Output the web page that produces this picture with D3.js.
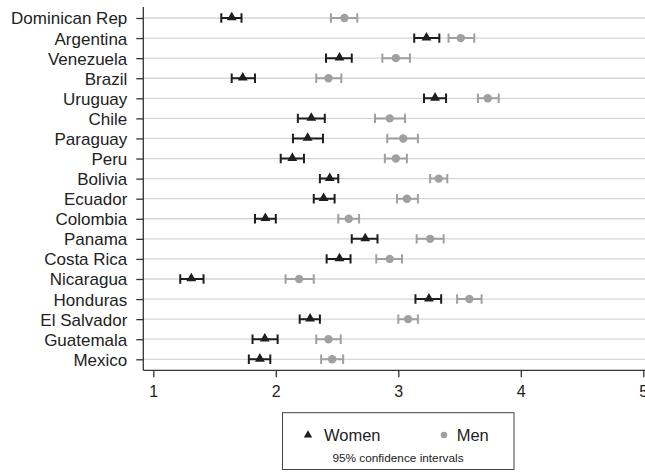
<!DOCTYPE html>
<html>
<head>
<meta charset="utf-8">
<script src="https://cdn.jsdelivr.net/npm/d3@7"></script>
<style>
  body { margin: 0; background: #fff; }
  svg text { font-family: "Liberation Sans", Arial, sans-serif; }
</style>
</head>
<body>
<div id="chart"></div>
<script>
// countries, top to bottom
const countries = ["Dominican Rep", "Argentina", "Venezuela", "Brazil", "Uruguay", "Chile",
  "Paraguay", "Peru", "Bolivia", "Ecuador", "Colombia", "Panama", "Costa Rica",
  "Nicaragua", "Honduras", "El Salvador", "Guatemala", "Mexico"];

// women: mean, lower, upper
const womenMean = [1.64, 3.23, 2.52, 1.73, 3.30, 2.29, 2.26, 2.135, 2.44, 2.39, 1.915, 2.73, 2.52, 1.31, 3.25, 2.28, 1.91, 1.87];
const womenLow  = [1.555, 3.13, 2.41, 1.64, 3.21, 2.18, 2.14, 2.04, 2.36, 2.31, 1.83, 2.62, 2.415, 1.22, 3.14, 2.195, 1.81, 1.78];
const womenHigh = [1.72, 3.335, 2.62, 1.83, 3.39, 2.40, 2.385, 2.23, 2.51, 2.48, 2.00, 2.83, 2.61, 1.41, 3.35, 2.36, 2.015, 1.955];

// men: mean, lower, upper
const menMean = [2.56, 3.51, 2.98, 2.43, 3.73, 2.93, 3.04, 2.98, 3.33, 3.07, 2.595, 3.26, 2.93, 2.19, 3.58, 3.08, 2.43, 2.46];
const menLow  = [2.45, 3.41, 2.87, 2.33, 3.65, 2.81, 2.91, 2.89, 3.26, 2.99, 2.51, 3.15, 2.82, 2.08, 3.48, 3.00, 2.33, 2.37];
const menHigh = [2.665, 3.62, 3.095, 2.535, 3.82, 3.055, 3.16, 3.07, 3.40, 3.16, 2.68, 3.37, 3.03, 2.31, 3.68, 3.16, 2.53, 2.55];

const xTicks = [1, 2, 3, 4, 5];

const W = 645, H = 472;
const axisX = 143.3, axisY = 370.3;

const svg = d3.select("#chart").append("svg")
  .attr("width", W).attr("height", H);

const x = d3.scaleLinear().domain([1, 5]).range([153.3, 643.3]);
const y = d3.scalePoint().domain(countries).range([18, 359.3]);

// gridlines
svg.append("g").selectAll("line")
  .data(countries).enter().append("line")
  .attr("x1", axisX).attr("x2", W)
  .attr("y1", d => y(d)).attr("y2", d => y(d))
  .attr("stroke", "#d6d6d6").attr("stroke-width", 1.3);

// y axis
let yAxis = svg.append("g")
  .attr("transform", `translate(${axisX},0)`)
  .call(d3.axisLeft(y).tickSize(7).tickPadding(9));
yAxis.select(".domain").attr("d", `M0,7V${axisY}`).attr("stroke", "#333").attr("stroke-width", 1.3);
yAxis.selectAll(".tick line").attr("stroke", "#333").attr("stroke-width", 1.3);
yAxis.selectAll(".tick text")
  .attr("font-size", "17px").attr("dy", "0.35em")
  .attr("fill", "#222").attr("font-family", "Liberation Sans, Arial, sans-serif");

// x axis
let xAxis = svg.append("g")
  .attr("transform", `translate(0,${axisY})`)
  .call(d3.axisBottom(x).tickValues(xTicks).tickFormat(d3.format("d")).tickSize(7).tickPadding(8));
xAxis.select(".domain").attr("d", `M${axisX},0H${W}`).attr("stroke", "#333").attr("stroke-width", 1.3);
xAxis.selectAll(".tick line").attr("stroke", "#333").attr("stroke-width", 1.3);
xAxis.selectAll(".tick text")
  .attr("font-size", "16px").attr("fill", "#222")
  .attr("font-family", "Liberation Sans, Arial, sans-serif");

const black = "#1e1e1e", gray = "#a0a0a0";

let drawSeries = (mean, low, high, color, shape) => {
  const rows = countries.map((c, i) => ({ c: c, m: mean[i], lo: low[i], hi: high[i] }));
  const g = svg.append("g");
  const capH = 4.7;
  g.selectAll(".bar").data(rows).enter().append("path")
    .attr("d", d => `M${x(d.lo)},${y(d.c)}H${x(d.hi)}` +
      `M${x(d.lo)},${y(d.c) - capH}V${y(d.c) + capH}` +
      `M${x(d.hi)},${y(d.c) - capH}V${y(d.c) + capH}`)
    .attr("stroke", color).attr("stroke-width", 2).attr("fill", "none");
  if (shape === "triangle") {
    g.selectAll(".pt").data(rows).enter().append("path")
      .attr("d", d3.symbol().type(d3.symbolTriangle).size(42))
      .attr("transform", d => `translate(${x(d.m)},${y(d.c) - 0.5})`)
      .attr("fill", color);
  } else {
    g.selectAll(".pt").data(rows).enter().append("circle")
      .attr("cx", d => x(d.m)).attr("cy", d => y(d.c)).attr("r", 4.2)
      .attr("fill", color);
  }
};

drawSeries(menMean, menLow, menHigh, gray, "circle");
drawSeries(womenMean, womenLow, womenHigh, black, "triangle");

// legend
const lg = svg.append("g");
lg.append("rect")
  .attr("x", 282.5).attr("y", 412.7).attr("width", 231.5).attr("height", 56.8)
  .attr("fill", "#fff").attr("stroke", "#444").attr("stroke-width", 1);
lg.append("path")
  .attr("d", d3.symbol().type(d3.symbolTriangle).size(30))
  .attr("transform", "translate(308,435)").attr("fill", black);
lg.append("text").attr("x", 324).attr("y", 441)
  .attr("font-size", "16.5px").attr("fill", "#222").text("Women");
lg.append("circle").attr("cx", 444).attr("cy", 435).attr("r", 3.3).attr("fill", gray);
lg.append("text").attr("x", 456.7).attr("y", 441)
  .attr("font-size", "16.5px").attr("fill", "#222").text("Men");
lg.append("text").attr("x", 398).attr("y", 461.5).attr("text-anchor", "middle")
  .attr("font-size", "11.8px").attr("fill", "#222")
  .text("95% confidence intervals");
</script>
</body>
</html>
